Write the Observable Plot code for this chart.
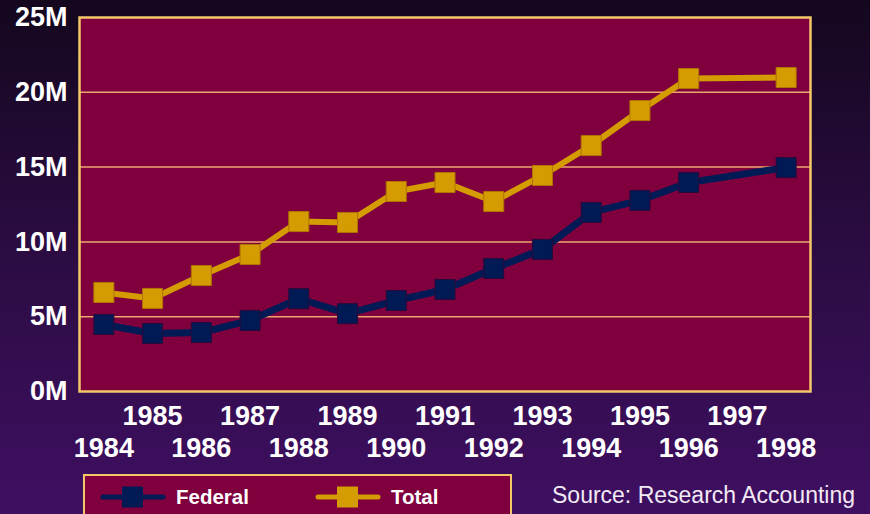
<!DOCTYPE html>
<html>
<head>
<meta charset="utf-8">
<script src="https://cdn.jsdelivr.net/npm/d3@7"></script>
<script src="https://cdn.jsdelivr.net/npm/@observablehq/plot@0.6"></script>
<style>
  html, body { margin: 0; padding: 0; }
  body {
    width: 870px; height: 514px; overflow: hidden; position: relative;
    background: linear-gradient(to bottom, #14071e 0%, #2a0c40 45%, #3f0f62 100%);
    font-family: Arial, "Liberation Sans", sans-serif;
  }
  #chart { position: absolute; left: 0; top: 0; }
  #legend {
    position: absolute; left: 83px; top: 474px; width: 429px; height: 50px;
    background: #80003e; border: 2px solid #f2c868; box-sizing: border-box;
  }
  #legend .item { position: absolute; top: 8px; height: 26px; display: flex; align-items: center; }
  #legend .lbl { color: #ffffff; font-weight: bold; font-size: 20.5px; margin-left: 10px; }
  #source {
    position: absolute; left: 552px; top: 482px; color: #f2eaf4;
    font-size: 23px; white-space: nowrap;
  }
</style>
</head>
<body>
<div id="chart"></div>
<div id="legend"></div>
<div id="source">Source: Research Accounting</div>
<script>
const years   = [1984, 1985, 1986, 1987, 1988, 1989, 1990, 1991, 1992, 1993, 1994, 1995, 1996, 1997, 1998];
const federal = [4.48, 3.88, 3.94, 4.75, 6.2, 5.2, 6.08, 6.82, 8.22, 9.5, 11.97, 12.77, 13.97, null, 14.97];
const total   = [6.62, 6.22, 7.75, 9.16, 11.36, 11.3, 13.37, 13.97, 12.7, 14.44, 16.44, 18.78, 20.92, null, 20.99];
const yTicks  = [0, 5, 10, 15, 20, 25];
const seriesNames = ["Federal", "Total"];
const seriesColors = ["#001a55", "#d49c00"];
const seriesBorders = ["#2a0a3a", "#b07400"];

const rows = [];
years.forEach((yr, i) => {
  if (federal[i] != null) rows.push({year: yr, value: federal[i] * 1e6, series: "Federal"});
  if (total[i] != null) rows.push({year: yr, value: total[i] * 1e6, series: "Total"});
});
const fed = rows.filter(d => d.series === "Federal");
const tot = rows.filter(d => d.series === "Total");

const oddYears = years.filter(y => y % 2 === 1);
const evenYears = years.filter(y => y % 2 === 0);

const chart = Plot.plot({
  width: 870,
  height: 474,
  marginLeft: 79,
  marginRight: 60,
  marginTop: 17,
  marginBottom: 83,
  style: {
    background: "transparent",
    color: "#ffffff",
    fontFamily: "Arial, 'Liberation Sans', sans-serif",
    fontWeight: "bold",
    fontSize: "27px",
    overflow: "visible"
  },
  x: {type: "point", domain: years, padding: 0.5, round: false},
  y: {domain: [0, 25e6]},
  marks: [
    Plot.frame({fill: "#80003e", stroke: "none"}),
    Plot.gridY(yTicks.slice(1, -1).map(v => v * 1e6), {stroke: "#eaa870", strokeOpacity: 1, strokeWidth: 1.5}),
    Plot.frame({stroke: "#f2c868", strokeWidth: 2.5}),
    Plot.axisY(yTicks.map(v => v * 1e6), {
      tickSize: 0, tickPadding: 12, tickFormat: d => (d / 1e6) + "M",
      fontSize: 27, fontWeight: "bold", fill: "#ffffff", label: null
    }),
    Plot.axisX(oddYears, {
      tickSize: 0, tickPadding: 14, tickFormat: d => String(d),
      fontSize: 27, fontWeight: "bold", fill: "#ffffff", label: null
    }),
    Plot.axisX(evenYears, {
      tickSize: 0, tickPadding: 46, tickFormat: d => String(d),
      fontSize: 27, fontWeight: "bold", fill: "#ffffff", label: null
    }),
    Plot.line(tot, {x: "year", y: "value", stroke: seriesColors[1], strokeWidth: 6}),
    Plot.dot(tot, {x: "year", y: "value", symbol: "square", r: 11.3, fill: seriesColors[1], stroke: seriesBorders[1], strokeWidth: 1}),
    Plot.line(fed, {x: "year", y: "value", stroke: seriesColors[0], strokeWidth: 7}),
    Plot.dot(fed, {x: "year", y: "value", symbol: "square", r: 11.3, fill: seriesColors[0], stroke: seriesBorders[0], strokeWidth: 1})
  ]
});
document.getElementById("chart").appendChild(chart);

// Legend
const legend = document.getElementById("legend");
const lefts = [15, 230];
seriesNames.forEach((name, i) => {
  const item = document.createElement("div");
  item.className = "item";
  item.style.left = lefts[i] + "px";
  item.innerHTML =
    `<svg width="66" height="26" viewBox="0 0 66 26">
       <line x1="3" y1="13" x2="63" y2="13" stroke="${seriesColors[i]}" stroke-width="5" stroke-linecap="round"/>
       <rect x="22" y="2.5" width="21" height="21" fill="${seriesColors[i]}"/>
     </svg><span class="lbl">${name}</span>`;
  legend.appendChild(item);
});
</script>
</body>
</html>
